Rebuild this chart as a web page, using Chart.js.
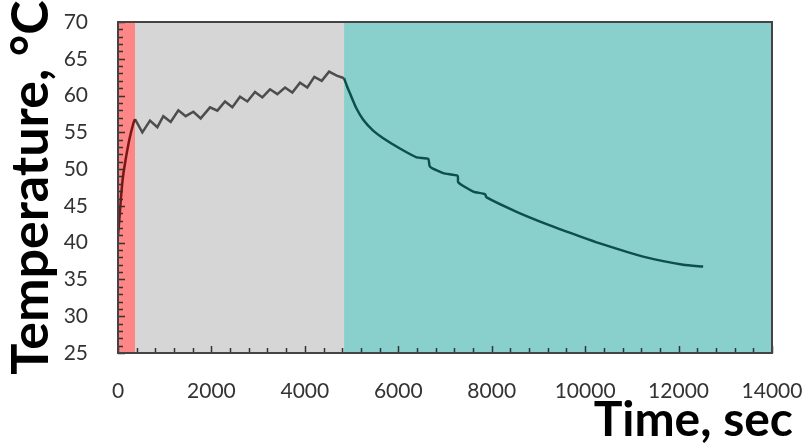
<!DOCTYPE html>
<html>
<head>
<meta charset="utf-8">
<script src="https://cdn.jsdelivr.net/npm/chart.js@4"></script>
<style>
  html, body { margin: 0; padding: 0; background: #fff; }
  #wrap { width: 809px; height: 443px; }
</style>
</head>
<body>
<div id="wrap"><canvas id="tempChart"></canvas></div>
<script>
  // heating phase
  const heatTime = [0, 30, 60, 100, 150, 242, 328, 364];
  const heatTemp = [41.0, 43.2, 45.8, 48.6, 50.8, 54.0, 56.2, 56.8];

  // holding phase (on/off zigzag)
  const holdTime = [364, 521, 685, 842, 970, 1128, 1292, 1449, 1613, 1770, 1970, 2127, 2291, 2448,
    2612, 2769, 2933, 3090, 3254, 3411, 3575, 3732, 3896, 4053, 4203, 4361, 4518, 4682, 4839];
  const holdTemp = [56.8, 55.0, 56.6, 55.7, 57.2, 56.4, 58.0, 57.2, 57.8, 56.9, 58.4, 57.95, 59.2, 58.4,
    59.85, 59.2, 60.5, 59.75, 60.85, 60.2, 61.1, 60.4, 61.75, 61.1, 62.55, 62.0, 63.25, 62.7, 62.35];

  // cooling phase
  const coolTime = [4839, 4900, 4965, 5100, 5250, 5450, 5678, 6035, 6392, 6640, 6677, 6962, 7270, 7284,
    7605, 7854, 7890, 8532, 9245, 9887, 10315, 11242, 12098, 12526];
  const coolTemp = [62.35, 61.3, 60.3, 58.3, 56.7, 55.3, 54.2, 52.8, 51.6, 51.4, 50.35, 49.45, 49.1, 48.2,
    46.95, 46.6, 46.15, 44.2, 42.35, 40.85, 39.9, 38.1, 37.0, 36.75];

  // background bands
  const phaseStart = [0, 364, 4839];
  const phaseEnd = [364, 4839, 14000];
  const phaseColors = ['#ff8686', '#d6d6d6', '#89d0cc'];

  const xTickStep = 400;
  const yTickStep = 1;

  function toPoints(xs, ys) {
    return xs.map((x, i) => ({ x: x, y: ys[i] }));
  }

  // keep tick labels from pushing the plot area around
  function noOverflow(s) {
    s.paddingLeft = 0;
    s.paddingRight = 0;
    s.paddingTop = 0;
    s.paddingBottom = 0;
  }

  const bandsPlugin = {
    id: 'bands',
    beforeDatasetsDraw(chart) {
      const { ctx, chartArea, scales } = chart;
      ctx.save();
      phaseStart.forEach((s, i) => {
        const x1 = scales.x.getPixelForValue(s);
        const x2 = scales.x.getPixelForValue(phaseEnd[i]);
        ctx.fillStyle = phaseColors[i];
        ctx.fillRect(x1, chartArea.top, x2 - x1, chartArea.bottom - chartArea.top);
      });
      ctx.restore();
    },
    afterDatasetsDraw(chart) {
      const { ctx, chartArea, scales } = chart;
      ctx.save();
      ctx.strokeStyle = '#333';
      ctx.lineWidth = 1.5;
      ctx.beginPath();
      // inward ticks on x
      for (let v = 0; v <= 14000; v += xTickStep) {
        const px = Math.round(scales.x.getPixelForValue(v)) + 0.5;
        const len = v % 2000 === 0 ? 7 : 5;
        ctx.moveTo(px, chartArea.bottom);
        ctx.lineTo(px, chartArea.bottom - len);
      }
      // inward ticks on y
      for (let v = 25; v <= 70; v += yTickStep) {
        const py = Math.round(scales.y.getPixelForValue(v)) + 0.5;
        const len = v % 5 === 0 ? 7 : 5;
        ctx.moveTo(chartArea.left, py);
        ctx.lineTo(chartArea.left + len, py);
      }
      ctx.stroke();
      ctx.strokeStyle = '#444';
      ctx.lineWidth = 2;
      ctx.strokeRect(chartArea.left, chartArea.top, chartArea.right - chartArea.left, chartArea.bottom - chartArea.top);
      // x axis title, right aligned past the plot edge
      ctx.fillStyle = '#000';
      ctx.font = 'bold 48px Lato';
      ctx.textAlign = 'right';
      ctx.textBaseline = 'alphabetic';
      ctx.fillText('Time, sec', chartArea.right + 21, 436);
      ctx.restore();
    }
  };

  const ctx = document.getElementById('tempChart').getContext('2d');
  new Chart(ctx, {
    type: 'line',
    data: {
      datasets: [{
        label: 'Heating',
        data: toPoints(heatTime, heatTemp),
        borderColor: '#7a1616',
        borderWidth: 2.5,
        pointRadius: 0,
        tension: 0.3
      }, {
        label: 'Holding',
        data: toPoints(holdTime, holdTemp),
        borderColor: '#4d4d4d',
        borderWidth: 2.5,
        pointRadius: 0,
        tension: 0
      }, {
        label: 'Cooling',
        data: toPoints(coolTime, coolTemp),
        borderColor: '#0e4f4c',
        borderWidth: 2.5,
        pointRadius: 0,
        tension: 0.2
      }]
    },
    options: {
      responsive: true,
      maintainAspectRatio: false,
      animation: false,
      layout: { padding: { top: 22, right: 37, bottom: 0, left: 0 } },
      plugins: {
        legend: { display: false },
        tooltip: { enabled: false }
      },
      scales: {
        x: {
          type: 'linear',
          min: 0,
          max: 14000,
          grid: { display: false },
          border: { display: false },
          ticks: {
            stepSize: 2000,
            padding: 18,
            color: '#333',
            font: { family: 'Lato', size: 21 },
            callback: v => String(v)
          },
          afterFit: s => { s.height = 90; noOverflow(s); }
        },
        y: {
          min: 25,
          max: 70,
          grid: { display: false },
          border: { display: false },
          ticks: {
            stepSize: 5,
            padding: 22,
            color: '#333',
            font: { family: 'Lato', size: 21 }
          },
          title: {
            display: true,
            text: 'Temperature, °C',
            color: '#000',
            padding: { top: 5, bottom: 0 },
            font: { family: 'Lato', size: 52, weight: 'bold', lineHeight: 1 }
          },
          afterFit: s => { s.width = 118; noOverflow(s); }
        }
      }
    },
    plugins: [bandsPlugin]
  });
</script>
</body>
</html>
